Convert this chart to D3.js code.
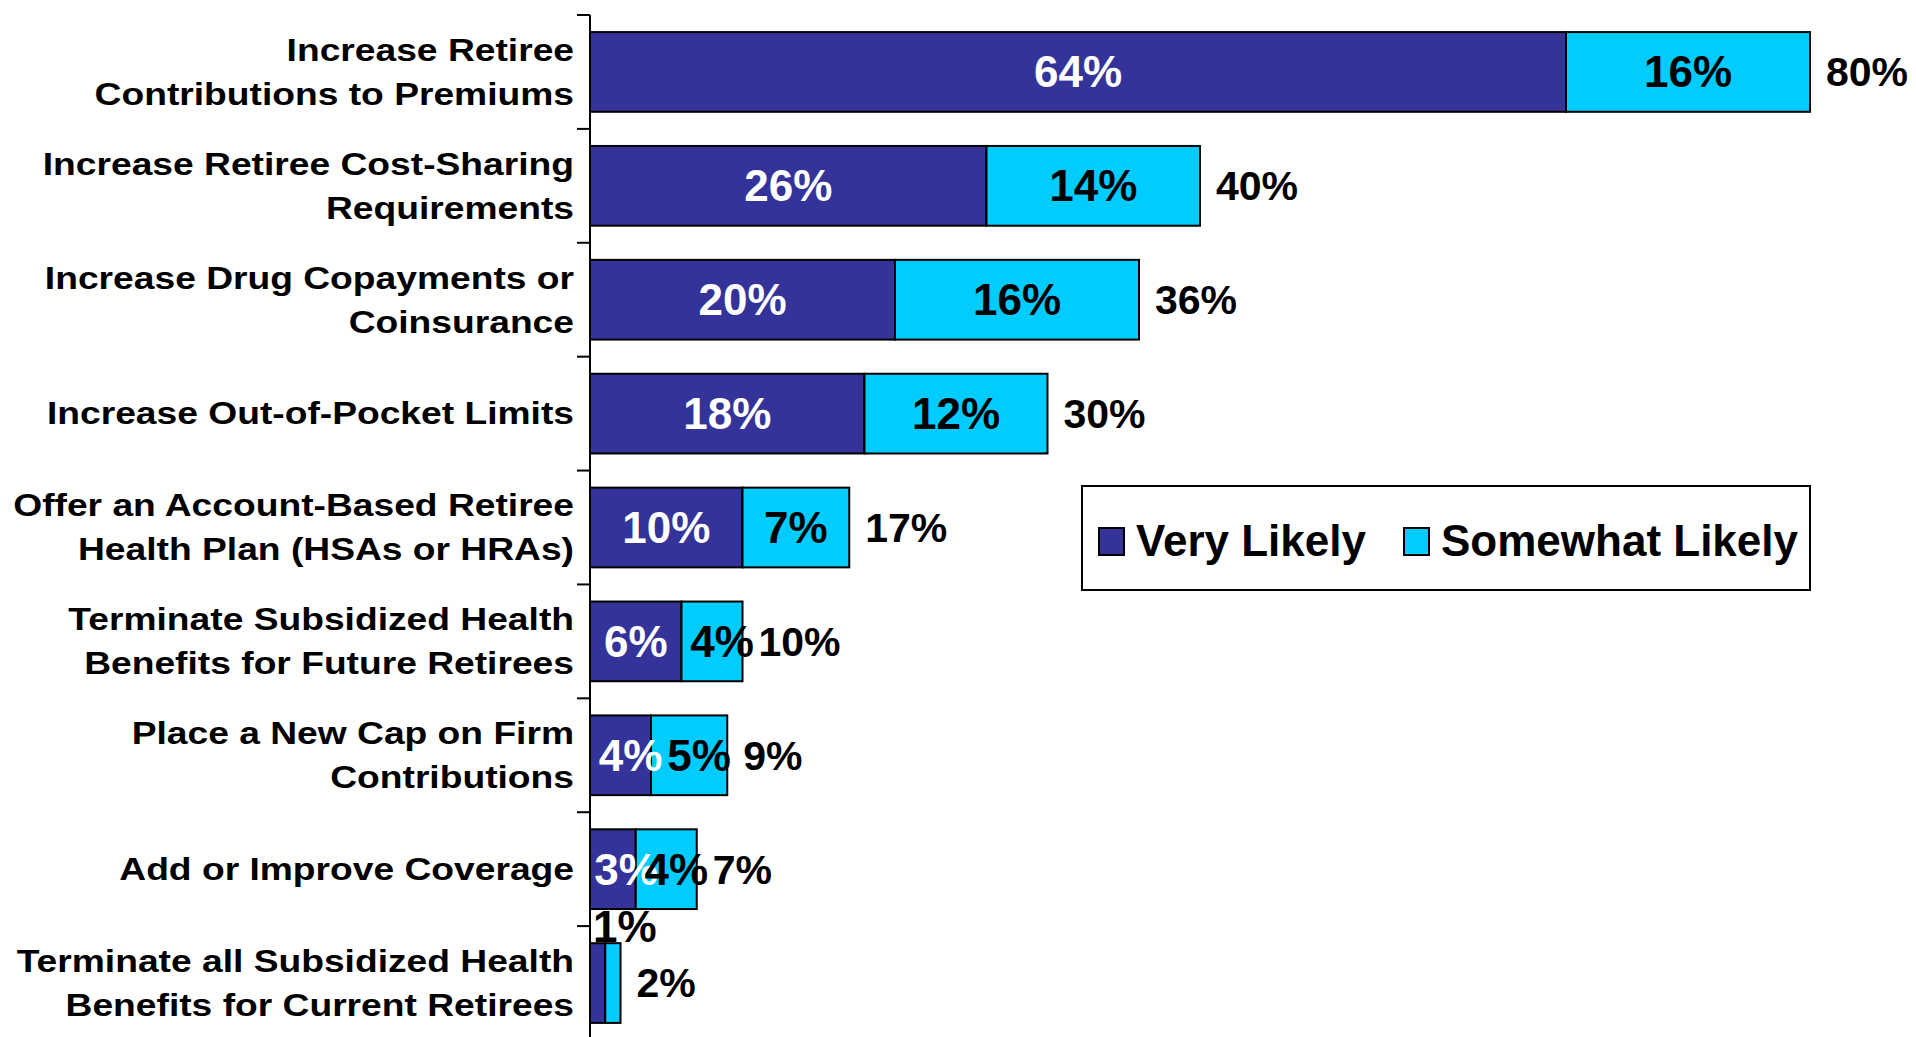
<!DOCTYPE html>
<html>
<head>
<meta charset="utf-8">
<script src="https://cdn.jsdelivr.net/npm/d3@7"></script>
<style>
	body { margin: 0; background: #fff; }
	svg { display: block; font-family: "Liberation Sans", Arial, sans-serif; font-weight: bold; }
</style>
</head>
<body>
<svg id="chart" width="1916" height="1037"></svg>
<script>
// data
const categories = [
	"Increase Retiree\nContributions to Premiums",
	"Increase Retiree Cost-Sharing\nRequirements",
	"Increase Drug Copayments or\nCoinsurance",
	"Increase Out-of-Pocket Limits",
	"Offer an Account-Based Retiree\nHealth Plan (HSAs or HRAs)",
	"Terminate Subsidized Health\nBenefits for Future Retirees",
	"Place a New Cap on Firm\nContributions",
	"Add or Improve Coverage",
	"Terminate all Subsidized Health\nBenefits for Current Retirees"
];
const veryLikely = [64, 26, 20, 18, 10, 6, 4, 3, 1];
const somewhatLikely = [16, 14, 16, 12, 7, 4, 5, 4, 1];
const totals = [80, 40, 36, 30, 17, 10, 9, 7, 2];
const seriesNames = ["Very Likely", "Somewhat Likely"];
const colors = ["#333399", "#00CCFF"];

// plot area
const margin = { top: 15, left: 590 };
const plotWidth = 1220;   // 0..80%
const plotHeight = 1025;

const svg = d3.select("#chart");
const g = svg.append("g")
	.attr("transform", "translate(" + margin.left + "," + margin.top + ")");

const x = d3.scaleLinear()
	.domain([0, 80])
	.range([0, plotWidth]);

const y = d3.scaleBand()
	.domain(categories)
	.range([0, plotHeight])
	.paddingInner(0.3)
	.paddingOuter(0.15);

const gap = (y.step() - y.bandwidth()) / 2;

// axis line + ticks at band boundaries
g.append("line")
	.attr("x1", 0).attr("x2", 0)
	.attr("y1", 0).attr("y2", plotHeight)
	.attr("stroke", "#000").attr("stroke-width", 2);

g.selectAll(".tick")
	.data(categories)
	.enter()
	.append("line")
	.attr("x1", -13).attr("x2", 0)
	.attr("y1", d => y(d) - gap)
	.attr("y2", d => y(d) - gap)
	.attr("stroke", "#000").attr("stroke-width", 2);

// category labels (the source font is drawn a bit wide)
const labels = g.selectAll(".cat")
	.data(categories)
	.enter()
	.append("text")
	.attr("class", "cat")
	.attr("text-anchor", "end")
	.attr("font-size", 31)
	.attr("fill", "#000")
	.attr("transform", d => "translate(-16," + (y(d) + y.bandwidth() / 2) + ") scale(1.2,1)");

labels.each(function(d) {
	const lines = d.split("\n");
	const lh = 44;
	const t = d3.select(this);
	lines.forEach((ln, i) => {
		t.append("tspan")
		.attr("x", 0)
		.attr("y", (i - (lines.length - 1) / 2) * lh)
		.attr("dy", "0.35em")
		.text(ln);
	});
});

// stacked segments
const rows = categories.map((c, i) => ({
	cat: c,
	segs: [
		{ s: 0, x0: 0, v: veryLikely[i] },
		{ s: 1, x0: veryLikely[i], v: somewhatLikely[i] }
	],
	total: totals[i]
}));

const row = g.selectAll(".row")
	.data(rows)
	.enter()
	.append("g")
	.attr("class", "row");

row.selectAll("rect")
	.data(d => d.segs.map(s => Object.assign({ cat: d.cat }, s)))
	.enter()
	.append("rect")
	.attr("x", d => x(d.x0))
	.attr("y", d => y(d.cat))
	.attr("width", d => x(d.x0 + d.v) - x(d.x0))
	.attr("height", y.bandwidth())
	.attr("fill", d => colors[d.s])
	.attr("stroke", "#000")
	.attr("stroke-width", 2);

// segment labels (tiny 1% values sit above the bar)
function segX(d) {
	if (d.v < 2) return x(d.x0) + 3;
	const w = x(d.x0 + d.v) - x(d.x0);
	const cx = x(d.x0 + d.v / 2) + (w < 80 ? 10 : 0);
	return Math.max(cx, 36);
}

row.selectAll(".seg")
	.data(d => d.segs.filter(s => !(s.v < 2 && s.s === 1)).map(s => Object.assign({ cat: d.cat }, s)))
	.enter()
	.append("text")
	.attr("class", "seg")
	.attr("font-size", 44)
	.attr("text-anchor", d => d.v < 2 ? "start" : "middle")
	.attr("x", segX)
	.attr("y", d => d.v < 2 ? y(d.cat) - 17 : y(d.cat) + y.bandwidth() / 2)
	.attr("dy", "0.35em")
	.attr("fill", d => (d.s === 0 && d.v >= 2) ? "#fff" : "#000")
	.text(d => d.v + "%");

// totals
row.append("text")
	.attr("font-size", 41)
	.attr("x", d => x(d.total) + 16)
	.attr("y", d => y(d.cat) + y.bandwidth() / 2)
	.attr("dy", "0.35em")
	.attr("fill", "#000")
	.text(d => d.total + "%");

// legend
const legend = svg.append("g").attr("transform", "translate(1082,486)");
legend.append("rect")
	.attr("width", 728).attr("height", 104)
	.attr("fill", "#fff").attr("stroke", "#000").attr("stroke-width", 2);

const legendX = [17, 322];
seriesNames.forEach((name, i) => {
	legend.append("rect")
		.attr("x", legendX[i]).attr("y", 42)
		.attr("width", 25).attr("height", 27)
		.attr("fill", colors[i]).attr("stroke", "#000").attr("stroke-width", 2);
	legend.append("text")
		.attr("x", legendX[i] + 37).attr("y", 55)
		.attr("dy", "0.35em")
		.attr("font-size", 44)
		.attr("fill", "#000")
		.text(name);
});
</script>
</body>
</html>
